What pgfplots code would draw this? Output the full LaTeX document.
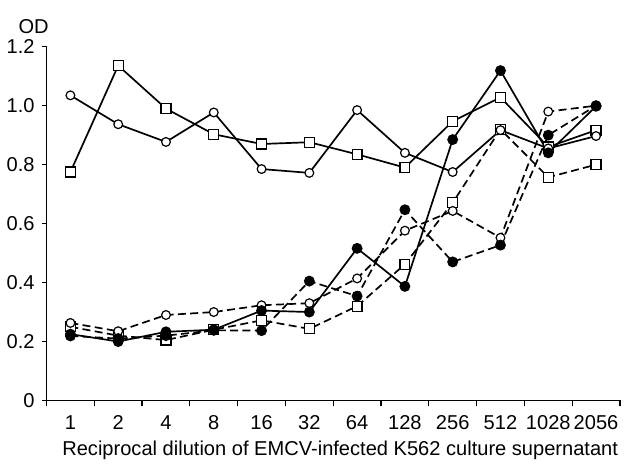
\documentclass[border=0pt]{standalone}
\usepackage{fontspec}
\setmainfont{Liberation Sans}
\usepackage{pgfplots}
\pgfplotsset{compat=1.18}

% OD readings, x = dilution index (1, 2, 4, ... 2056)
\pgfplotstableread{
x  sc    ss     sf     dc     df     ds
0  1.035 0.775  0.225  0.263  0.219  0.250
1  0.937 1.136  0.200  0.235  0.210  0.220
2  0.877 0.990  0.233  0.290  0.220  0.205
3  0.977 0.903  0.240  0.300  0.238  0.240
4  0.785 0.870  0.305  0.323  0.237  0.272
5  0.772 0.876  0.300  0.330  0.405  0.243
6  0.985 0.835  0.516  0.414  0.354  0.320
7  0.840 0.790  0.387  0.576  0.647  0.462
8  0.775 0.947  0.885  0.643  0.470  0.671
9  0.917 1.028  1.119  0.552  0.527  0.920
10 0.855 0.860  0.840  0.980  0.900  0.757
11 0.897 0.917  0.998  1.000  1.000  0.800
}\odtable

\begin{document}
\begin{tikzpicture}
\begin{axis}[
    scale only axis,
    width=288.5pt, height=178pt,
    axis lines=left,
    axis line style={line width=0.6pt, -},
    xmin=-0.5, xmax=11.5,
    ymin=0, ymax=1.2,
    xtick={0,...,11},
    xticklabels={1,2,4,8,16,32,64,128,256,512,1028,2056},
    minor xtick={-0.5,0.5,...,11.5},
    major x tick style={draw=none},
    minor tick length=3pt,
    major tick length=2.5pt,
    tick align=outside,
    tick style={line width=0.6pt, black},
    ytick={0,0.2,0.4,0.6,0.8,1.0,1.2},
    yticklabels={0,0.2,0.4,0.6,0.8,1.0,1.2},
    /pgf/number format/assume math mode=true,
    tick label style={font=\fontsize{10.1}{12}\selectfont},
    xticklabel style={yshift=-1.5pt},
    label style={font=\fontsize{10.1}{12}\selectfont},
    xlabel={Reciprocal dilution of EMCV-infected K562 culture supernatant},
    xlabel style={xshift=3.5pt, yshift=1pt},
    clip=false,
    solidl/.style={black, line width=0.85pt, solid},
    dashl/.style={black, line width=0.85pt, dash pattern=on 4pt off 2.2pt},
]
\addplot[dashl, mark=square*, mark size=2.5pt, mark options={solid, fill=white, line width=0.6pt}] table[x=x, y=ds] {\odtable};
\addplot[dashl, mark=*, mark size=2.2pt, mark options={solid, fill=white, line width=0.6pt}] table[x=x, y=dc] {\odtable};
\addplot[dashl, mark=*, mark size=2.3pt, mark options={solid, fill=black}] table[x=x, y=df] {\odtable};
\addplot[solidl, mark=square*, mark size=2.5pt, mark options={fill=white, line width=0.6pt}] table[x=x, y=ss] {\odtable};
\addplot[solidl, mark=*, mark size=2.2pt, mark options={fill=white, line width=0.6pt}] table[x=x, y=sc] {\odtable};
\addplot[solidl, mark=*, mark size=2.3pt, mark options={fill=black}] table[x=x, y=sf] {\odtable};
\node[font=\fontsize{10.1}{12}\selectfont] at (rel axis cs:0,1) [xshift=-6.5pt, yshift=10pt] {OD};
\coordinate (bl) at (rel axis cs:0,0);
\coordinate (tr) at (rel axis cs:1,1);
\end{axis}
\path ([shift={(-22.5pt,-30pt)}]bl) rectangle ([shift={(1.5pt,23.5pt)}]tr);
\end{tikzpicture}
\end{document}
